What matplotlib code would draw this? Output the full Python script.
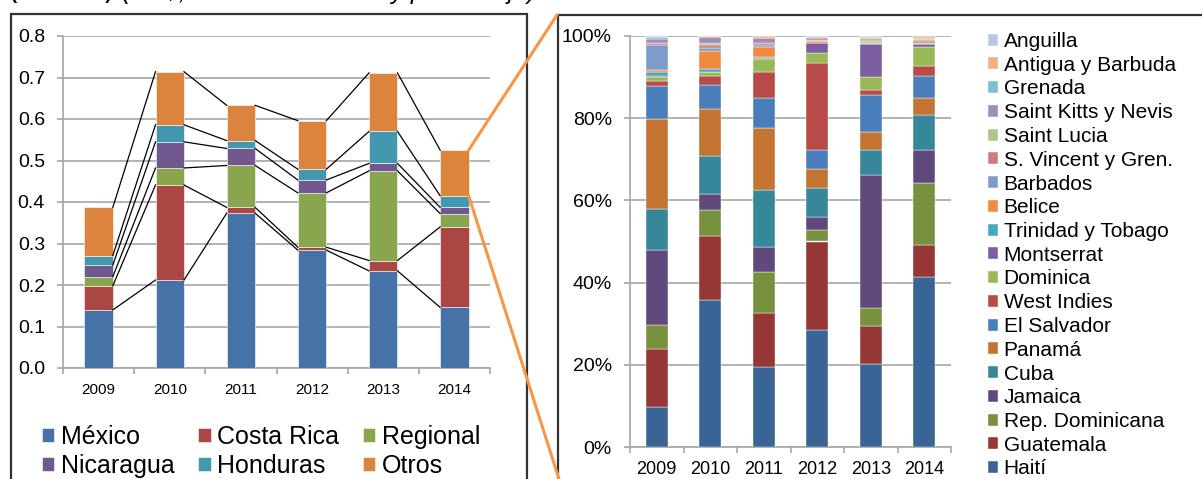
import numpy as np
import matplotlib
matplotlib.use("Agg")
import matplotlib.pyplot as plt
from matplotlib.patches import Rectangle, ConnectionPatch
from matplotlib.ticker import FuncFormatter, FixedLocator

plt.rcParams['font.family'] = ['Liberation Sans', 'DejaVu Sans']

# ---------------- data ----------------
years = ['2009', '2010', '2011', '2012', '2013', '2014']

# Left chart (US$ miles de millones)
left_labels = ['México', 'Costa Rica', 'Regional', 'Nicaragua', 'Honduras', 'Otros']
mexico     = [0.140, 0.212, 0.373, 0.284, 0.234, 0.146]
costa_rica = [0.058, 0.229, 0.014, 0.007, 0.025, 0.194]
regional   = [0.022, 0.041, 0.101, 0.131, 0.216, 0.032]
nicaragua  = [0.028, 0.063, 0.041, 0.031, 0.018, 0.015]
honduras   = [0.023, 0.041, 0.019, 0.026, 0.077, 0.028]
otros      = [0.116, 0.128, 0.085, 0.117, 0.141, 0.110]
left_colors = ['#4572A7', '#AA4643', '#89A54E', '#71588F', '#4198AF', '#DB843D']

# Right chart (percent of "Otros"), bottom to top
right_labels = ['Haití', 'Guatemala', 'Rep. Dominicana', 'Jamaica', 'Cuba', 'Panamá',
                'El Salvador', 'West Indies', 'Dominica', 'Montserrat',
                'Trinidad y Tobago', 'Belice', 'Barbados', 'S. Vincent y Gren.',
                'Saint Lucia', 'Saint Kitts y Nevis', 'Grenada', 'Antigua y Barbuda',
                'Anguilla']
haiti       = [9.8, 35.8, 19.5, 28.5, 20.2, 41.4]
guatemala   = [14.1, 15.5, 13.0, 21.5, 9.2, 8.0]
rep_dom     = [5.9, 6.3, 10.2, 2.9, 4.4, 15.1]
jamaica     = [18.2, 3.9, 6.0, 3.1, 32.4, 8.0]
cuba        = [10.0, 9.4, 13.9, 7.1, 6.3, 8.6]
panama      = [21.8, 11.3, 15.0, 4.5, 4.2, 4.1]
el_salvador = [8.2, 5.8, 7.3, 4.7, 9.2, 5.4]
west_indies = [1.1, 2.3, 6.4, 21.2, 1.2, 2.4]
dominica    = [0.9, 1.0, 3.1, 2.3, 3.2, 4.7]
montserrat  = [0.3, 0.0, 0.3, 2.4, 7.9, 0.6]
trinidad    = [1.1, 0.6, 0.1, 0.0, 0.1, 0.1]
belice      = [0.3, 4.5, 2.5, 0.5, 0.3, 0.1]
barbados    = [6.2, 0.7, 0.4, 0.0, 0.1, 0.1]
s_vincent   = [0.5, 0.8, 0.5, 0.3, 0.4, 0.4]
saint_lucia = [0.1, 0.5, 0.0, 0.0, 0.6, 0.5]
saint_kitts = [0.8, 1.3, 1.4, 0.5, 0.0, 0.1]
grenada     = [0.5, 0.1, 0.0, 0.3, 0.3, 0.3]
antigua     = [0.1, 0.1, 0.3, 0.1, 0.1, 0.3]
anguilla    = [0.2, 0.1, 0.1, 0.1, 0.1, 0.1]
right_colors = ['#3B6496', '#953735', '#77913F', '#604A7B', '#37879B', '#C37432',
                '#4A7EBB', '#B84A47', '#98B955', '#7B5E9F', '#4AA7C2', '#F08B3E',
                '#7E9CCB', '#CD7F7D', '#AEC68A', '#A08CB9', '#7CC0D2', '#F8AE7A',
                '#B9C8E2']

title_bold = '(2009-2014)'
title_ital = '(US$, miles de millones y porcentaje)'

# ---------------- figure ----------------
W, H = 1202, 479
fig = plt.figure(figsize=(W / 100, H / 100), dpi=100)

def px_axes(x0, y0, x1, y1):
    return fig.add_axes([x0 / W, 1 - y1 / H, (x1 - x0) / W, (y1 - y0) / H])

grid_c = '#A6A6A6'

# frames
fig.add_artist(Rectangle((11 / W, -0.05), (527 - 11) / W, 1 - 14 / H + 0.05,
                         transform=fig.transFigure, fill=False, ec='#333333', lw=1.6))
fig.add_artist(Rectangle((558 / W, -0.05), 0.6, 1 - 15 / H + 0.05,
                         transform=fig.transFigure, fill=False, ec='#333333', lw=1.6))

# title (cut off at top, as in the source image)
fig.text(10 / W, 1 + 1 / H, title_bold, fontsize=13.5, fontweight='bold',
         ha='left', va='baseline')
fig.text(122 / W, 1 + 1 / H, title_ital, fontsize=18, style='italic',
         ha='left', va='baseline')

# ---------------- left chart ----------------
ax1 = px_axes(63, 36, 490, 368)
x = np.arange(len(years))
bw = 0.4
series_l = [mexico, costa_rica, regional, nicaragua, honduras, otros]
bottom = np.zeros(len(years))
cum_tops = []
hl = []
for vals, c, lab in zip(series_l, left_colors, left_labels):
    b = ax1.bar(x, vals, bw, bottom=bottom, color=c, label=lab, edgecolor='white',
                linewidth=0.4, zorder=3)
    hl.append(b)
    bottom = bottom + np.array(vals)
    cum_tops.append(bottom.copy())
for tops in cum_tops:
    for i in range(len(years) - 1):
        ax1.plot([x[i] + bw / 2, x[i + 1] - bw / 2], [tops[i], tops[i + 1]],
                 color='black', lw=0.9, zorder=4)

ax1.set_xlim(-0.5, 5.5)
ax1.set_ylim(0, 0.8)
ax1.set_yticks(np.arange(0, 0.81, 0.1))
ax1.yaxis.set_major_formatter(FuncFormatter(lambda v, p: f'{v:.1f}'))
ax1.grid(axis='y', color=grid_c, lw=1.2, zorder=0)
ax1.set_axisbelow(True)
for s in ['top', 'right']:
    ax1.spines[s].set_visible(False)
for s in ['left', 'bottom']:
    ax1.spines[s].set_color(grid_c)
    ax1.spines[s].set_linewidth(1.2)
ax1.set_xticks(x)
ax1.set_xticklabels(years, fontsize=11)
ax1.xaxis.set_minor_locator(FixedLocator(np.arange(-0.5, 5.6, 1)))
ax1.tick_params(axis='x', which='major', length=0, pad=11)
ax1.tick_params(axis='x', which='minor', length=4, color=grid_c, width=1.2)
ax1.tick_params(axis='y', length=4, color=grid_c, width=1.2, labelsize=14, pad=9)

# row-wise order: México, Costa Rica, Regional / Nicaragua, Honduras, Otros
order = [0, 3, 1, 4, 2, 5]
ax1.legend([hl[i] for i in order], [left_labels[i] for i in order],
           loc='upper left', bbox_to_anchor=(42 / W, 1 - 425 / H),
           bbox_transform=fig.transFigure, ncol=3, frameon=False, fontsize=18,
           handlelength=0.5, handleheight=0.5, handletextpad=0.25,
           columnspacing=0.95, labelspacing=0.2, borderpad=0, borderaxespad=0)

# ---------------- right chart ----------------
ax2 = px_axes(630, 36, 951, 447)
series_r = [haiti, guatemala, rep_dom, jamaica, cuba, panama, el_salvador,
            west_indies, dominica, montserrat, trinidad, belice, barbados,
            s_vincent, saint_lucia, saint_kitts, grenada, antigua, anguilla]
arr = np.array(series_r, dtype=float)
shares = arr / arr.sum(axis=0) * 100
bottom = np.zeros(len(years))
handles = []
for vals, c, lab in zip(shares, right_colors, right_labels):
    b = ax2.bar(x, vals, 0.41, bottom=bottom, color=c, label=lab,
                edgecolor='white', linewidth=0.3, zorder=3)
    handles.append(b)
    bottom = bottom + vals
ax2.set_xlim(-0.5, 5.5)
ax2.set_ylim(0, 100)
ax2.set_yticks(np.arange(0, 101, 20))
ax2.yaxis.set_major_formatter(FuncFormatter(lambda v, p: f'{v:.0f}%'))
ax2.grid(axis='y', color=grid_c, lw=1.2, zorder=0)
ax2.set_axisbelow(True)
for s in ['top', 'right']:
    ax2.spines[s].set_visible(False)
for s in ['left', 'bottom']:
    ax2.spines[s].set_color(grid_c)
    ax2.spines[s].set_linewidth(1.2)
ax2.set_xticks(x)
ax2.set_xticklabels(years, fontsize=13)
ax2.xaxis.set_minor_locator(FixedLocator(np.arange(-0.5, 5.6, 1)))
ax2.tick_params(axis='x', which='major', length=0, pad=10)
ax2.tick_params(axis='x', which='minor', length=4, color=grid_c, width=1.2)
ax2.tick_params(axis='y', length=4, color=grid_c, width=1.2, labelsize=14, pad=9)

ax2.legend(handles[::-1], right_labels[::-1], loc='upper left',
           bbox_to_anchor=(988 / W, 1 - 32 / H), bbox_transform=fig.transFigure,
           frameon=False, fontsize=15, handlelength=0.5, handleheight=0.5,
           handletextpad=0.25, labelspacing=0.228, borderpad=0, borderaxespad=0)

# ---------------- zoom connectors ----------------
orange = '#F79646'
top_total = cum_tops[-1][-1]
hond_top = cum_tops[-2][-1]
for yv, xyB in [(top_total, (557, H - 15)), (hond_top, (559, 0))]:
    cp = ConnectionPatch(xyA=(x[-1] + bw / 2, yv), coordsA=ax1.transData,
                         xyB=xyB, coordsB='figure pixels', color=orange, lw=2.2,
                         zorder=10)
    fig.add_artist(cp)

fig.savefig('out.png', dpi=100)
